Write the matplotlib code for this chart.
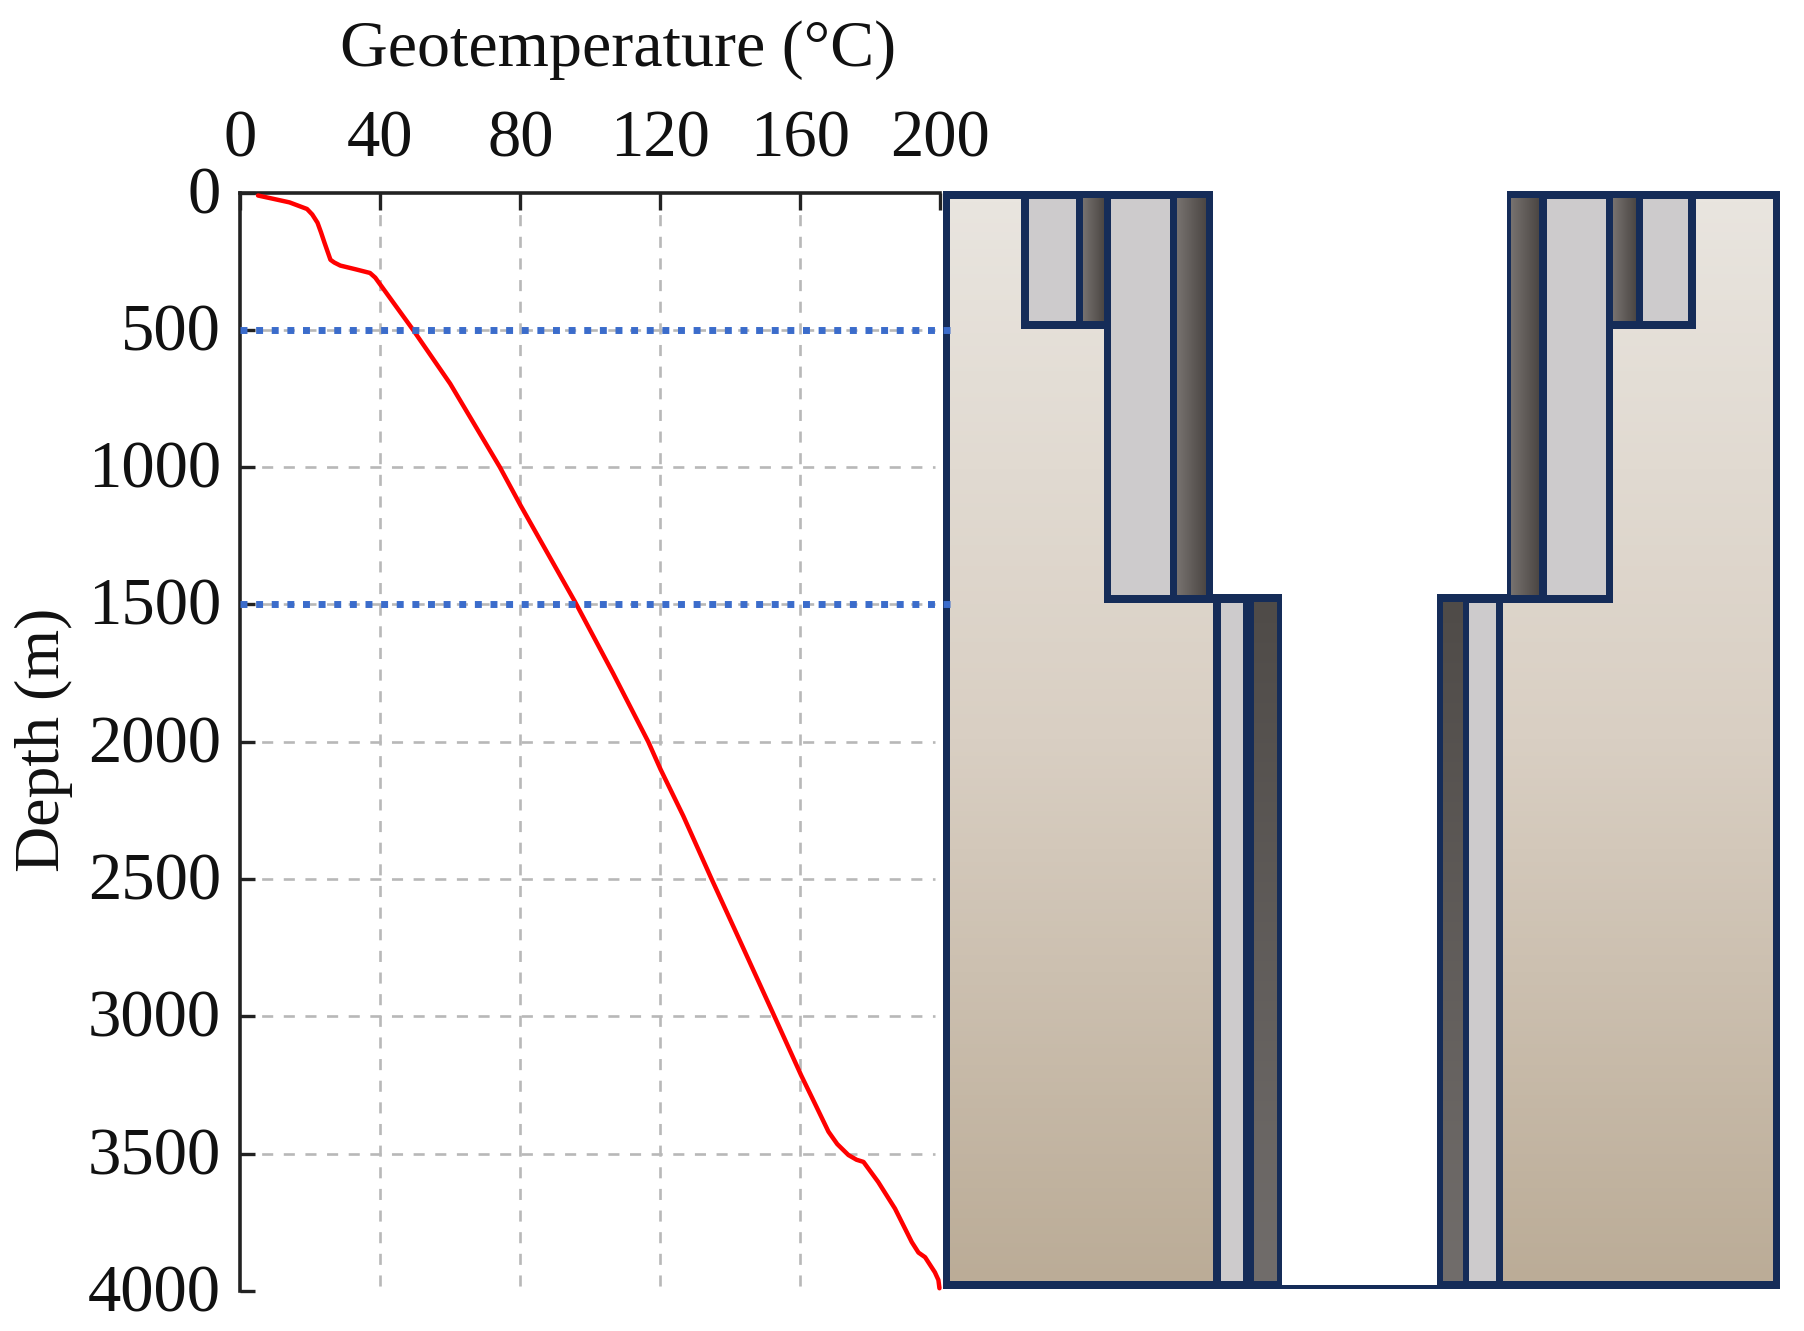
import numpy as np
import matplotlib
matplotlib.use("Agg")
import matplotlib.pyplot as plt
from matplotlib.colors import LinearSegmentedColormap
from matplotlib.patches import Polygon, Rectangle
from matplotlib.transforms import ScaledTranslation

plt.rcParams['font.family'] = ['Liberation Serif', 'DejaVu Serif']

# Temperature profile
temperature = [5, 9, 14, 19, 20.5, 22, 23, 24, 25.7, 26.8, 28.5, 33, 37, 38.5, 49.3, 59.9, 74.1, 80, 95.6, 106.5, 116.5, 120, 126.5,
               134.6, 142.7, 152.2, 160.2, 163.6, 168, 170.5, 173.7, 176, 178, 182.2, 187, 191.8, 193.7, 195.6, 198.4, 199.4, 199.7]
depth = [11, 22, 36, 60, 80, 110, 145, 183, 245, 255, 266, 280, 293, 310, 500, 696, 1000, 1139, 1491, 1752, 2000, 2100, 2270,
         2500, 2725, 2990, 3215, 3304, 3420, 3465, 3505, 3522, 3530, 3603, 3700, 3822, 3860, 3877, 3932, 3960, 3990]
x_ticks = [0, 40, 80, 120, 160, 200]
y_ticks = [0, 500, 1000, 1500, 2000, 2500, 3000, 3500, 4000]
grid_depths = [1000, 2000, 2500, 3000, 3500]
dotted_depths = [500, 1500]

# Well schematic: x in schematic units, y in depth (m)
navy_blocks = [(943, 1213, -4, 1493), (943, 1282, 1463, 3993),
               (1507, 1780, -4, 1493), (1437, 1780, 1463, 3993),
               (943, 1780, 3978, 3993)]
formation_left = [(950, 22), (1021, 22), (1021, 498), (1104, 498), (1104, 1493), (1213, 1493), (1213, 3965), (950, 3965)]
formation_right = [(1696, 22), (1773, 22), (1773, 3965), (1503, 3965), (1503, 1493), (1613, 1493), (1613, 498), (1696, 498)]
light_columns = [(1029, 1076, 22, 467), (1111, 1170, 22, 1465), (1221, 1243, 1493, 3965),
                 (1469, 1496, 1493, 3965), (1547, 1606, 22, 1465), (1643, 1688, 22, 467)]
dark_upper = [(1083, 1104, 22, 467), (1177, 1206, 22, 1465), (1511, 1539, 22, 1465), (1613, 1636, 22, 467)]
dark_lower = [(1254, 1277, 1493, 3965), (1443, 1463, 1493, 3965)]

NAVY = '#152C58'
LIGHT = '#CDCBCC'
cm_form = LinearSegmentedColormap.from_list('form', ['#E9E5DF', '#D9CFC3', '#BBAC97'])
cm_dark_h = LinearSegmentedColormap.from_list('dh', ['#77726F', '#4C4744'])
cm_dark_v = LinearSegmentedColormap.from_list('dv', ['#4F4B48', '#716D6B'])

fig = plt.figure(figsize=(18.04, 13.31), dpi=100, facecolor='white')
W, H = 1804, 1331
top, bottom = 192.5, 1291
left_ax, right_ax = 240.5, 940.5
pos = lambda l, r: [l / W, 1 - bottom / H, (r - l) / W, (bottom - top) / H]

# schematic axes
ax2 = fig.add_axes(pos(940, 1804), zorder=1)
ax2.set_xlim(940, 1804)
ax2.set_ylim(4000, 0)
ax2.axis('off')
for x0, x1, d0, d1 in navy_blocks:
    ax2.add_patch(Rectangle((x0, d0), x1 - x0, d1 - d0, fc=NAVY, ec='none', clip_on=False))
vgrad = np.linspace(0, 1, 256).reshape(-1, 1)
hgrad = np.linspace(0, 1, 64).reshape(1, -1)
for poly in (formation_left, formation_right):
    xs = [p[0] for p in poly]
    im = ax2.imshow(vgrad, cmap=cm_form, aspect='auto', extent=(min(xs), max(xs), 3965, 22), zorder=2)
    patch = Polygon(poly, closed=True, transform=ax2.transData, fc='none', ec='none')
    ax2.add_patch(patch)
    im.set_clip_path(patch)
for x0, x1, d0, d1 in light_columns:
    ax2.add_patch(Rectangle((x0, d0), x1 - x0, d1 - d0, fc=LIGHT, ec='none', zorder=2))
for x0, x1, d0, d1 in dark_upper:
    ax2.imshow(hgrad, cmap=cm_dark_h, aspect='auto', extent=(x0, x1, d1, d0), zorder=2)
for x0, x1, d0, d1 in dark_lower:
    ax2.imshow(vgrad, cmap=cm_dark_v, aspect='auto', extent=(x0, x1, d1, d0), zorder=2)
ax2.set_xlim(940, 1804)
ax2.set_ylim(4000, 0)

# chart axes
ax = fig.add_axes(pos(left_ax, right_ax), zorder=2)
ax.patch.set_alpha(0)
ax.set_xlim(0, 200)
ax.set_ylim(4000, 0)
for s in ('right', 'bottom'):
    ax.spines[s].set_visible(False)
for s in ('left', 'top'):
    ax.spines[s].set_linewidth(2.6)
    ax.spines[s].set_color('#222222')
ax.xaxis.tick_top()
ax.set_xticks(x_ticks)
ax.set_yticks(y_ticks)
ax.tick_params(axis='x', direction='in', length=12, width=2.4, color='#222222', labelsize=48, pad=15.5)
ax.tick_params(axis='y', direction='in', length=11, width=2.4, color='#222222', labelsize=48, pad=14)
ax.tick_params(axis='both', labelcolor='#111111')
up = ScaledTranslation(0, 3 / 100, fig.dpi_scale_trans)
for lab in ax.get_yticklabels():
    lab.set_transform(lab.get_transform() + up)

grid_kw = dict(color='#B8B8B8', linewidth=1.9, linestyles=[(0, (4.2, 4))], zorder=1)
ax.vlines(x_ticks[1:-1], 0, 4000, **grid_kw)
ax.hlines(grid_depths + dotted_depths, 0, 198.5, **grid_kw)
ax.hlines(dotted_depths, 0, 202.8, color='#3B6CCB', linewidth=5, linestyles=[(0, (1, 1.25))], zorder=4, clip_on=False)
ax.plot(temperature, depth, color='#FF0000', linewidth=3.2, zorder=3, clip_on=False, solid_capstyle='round', solid_joinstyle='round')

fig.text(618.5 / W, 1 - 50 / H, 'Geotemperature (\u00b0C)', ha='center', va='center', fontsize=47.5, color='#111111')
fig.text(44 / W, 1 - 740 / H, 'Depth (m)', ha='center', va='center', rotation=90, fontsize=46, color='#111111')

fig.savefig('out.png', dpi=100)
